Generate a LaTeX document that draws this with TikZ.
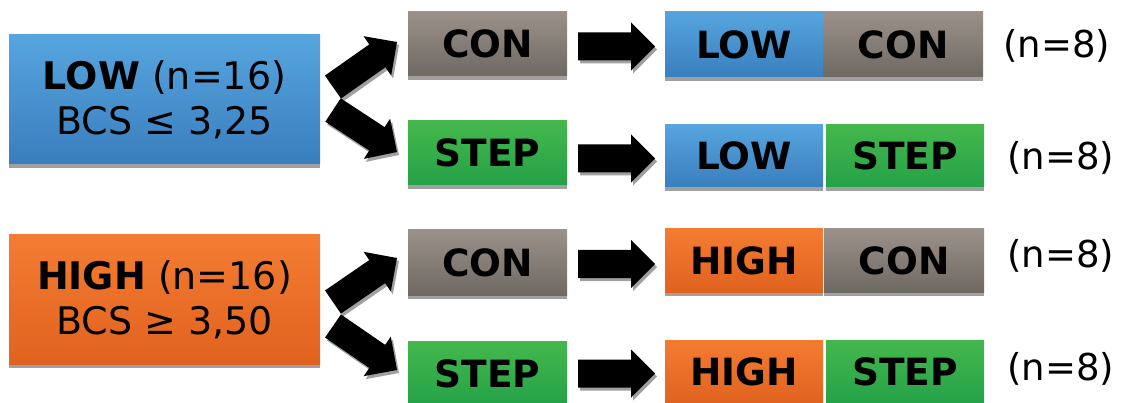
\documentclass[tikz,border=0pt]{standalone}
\usepackage{fontspec}
\setmainfont{DejaVu Sans}
\usetikzlibrary{calc,shadows}
\definecolor{bluetop}{RGB}{86,165,223}
\definecolor{bluebot}{RGB}{58,126,189}
\definecolor{graytop}{RGB}{154,145,138}
\definecolor{graybot}{RGB}{111,105,99}
\definecolor{greentop}{RGB}{69,184,76}
\definecolor{greenbot}{RGB}{36,161,72}
\definecolor{orangetop}{RGB}{244,124,50}
\definecolor{orangebot}{RGB}{224,98,31}
\definecolor{shadowgray}{RGB}{160,160,160}
\tikzset{
  box/.style={inner sep=0pt, outer sep=0pt, align=center, text=black,
    font=\fontsize{38pt}{45pt}\selectfont,
    general shadow={shadow yshift=-4pt, fill=shadowgray}},
  lbl/.style={box, font=\fontsize{37.5pt}{45pt}\selectfont\bfseries},
  bluebox/.style={top color=bluetop, bottom color=bluebot},
  graybox/.style={top color=graytop, bottom color=graybot},
  greenbox/.style={top color=greentop, bottom color=greenbot},
  orangebox/.style={top color=orangetop, bottom color=orangebot},
  nlbl/.style={anchor=base west, inner sep=0pt, font=\fontsize{37pt}{45pt}\selectfont},
  arrowbody/.style={fill=black},
  arrowshadow/.style={fill=shadowgray},
}
\newcommand{\blockarrow}[2]{%
  \path let \p1=(#1), \p2=(#2), \n1={atan2(\y2-\y1,\x2-\x1)}, \n2={veclen(\x2-\x1,\y2-\y1)} in
    \pgfextra{\xdef\baang{\n1}\xdef\balen{\n2}\xdef\bax{\x1}\xdef\bay{\y1}};
  \fill[arrowshadow, shift={(\bax+2pt,\bay-3pt)}, rotate=\baang]
    (0pt,-14pt) -- ({\balen-24pt},-14pt) -- ({\balen-24pt},-24pt) -- ({\balen},0pt)
    -- ({\balen-24pt},24pt) -- ({\balen-24pt},14pt) -- (0pt,14pt) -- cycle;
  \fill[arrowbody, shift={(\bax,\bay)}, rotate=\baang]
    (0pt,-14pt) -- ({\balen-24pt},-14pt) -- ({\balen-24pt},-24pt) -- ({\balen},0pt)
    -- ({\balen-24pt},24pt) -- ({\balen-24pt},14pt) -- (0pt,14pt) -- cycle;
}
\begin{document}
\begin{tikzpicture}[x=1pt,y=-1pt]
\useasboundingbox (0,0) rectangle (1121,403);
\fill[white] (0,0) rectangle (1121,403);

% left group boxes
\node[box, bluebox, minimum width=311pt, minimum height=129pt] (low) at (164.5,99.5)
  {{\bfseries LOW} (n=16)\\BCS ≤ 3,25};
\node[box, orangebox, minimum width=311pt, minimum height=129pt] (high) at (164.5,299.5)
  {{\bfseries HIGH} (n=16)\\BCS ≥ 3,50};

% middle boxes
\node[lbl, graybox, minimum width=159pt, minimum height=64pt] (con1) at (487.5,44) {CON};
\node[lbl, greenbox, minimum width=159pt, minimum height=64pt] (step1) at (487.5,153) {STEP};
\node[lbl, graybox, minimum width=159pt, minimum height=65pt] (con2) at (487.5,262.5) {CON};
\node[lbl, greenbox, minimum width=159pt, minimum height=65pt] (step2) at (487.5,373.5) {STEP};

% right boxes
\node[lbl, bluebox, minimum width=158pt, minimum height=65pt] (r1a) at (744,44.5) {LOW};
\node[lbl, graybox, minimum width=160pt, minimum height=65pt] (r1b) at (903,44.5) {CON};
\node[lbl, bluebox, minimum width=158pt, minimum height=62pt] (r2a) at (744,156) {LOW};
\node[lbl, greenbox, minimum width=158pt, minimum height=62pt] (r2b) at (905,156) {STEP};
\node[lbl, orangebox, minimum width=158pt, minimum height=63pt] (r3a) at (744,260.5) {HIGH};
\node[lbl, graybox, minimum width=160pt, minimum height=63pt] (r3b) at (904,260.5) {CON};
\node[lbl, orangebox, minimum width=158pt, minimum height=64pt] (r4a) at (744,372) {HIGH};
\node[lbl, greenbox, minimum width=158pt, minimum height=64pt] (r4b) at (905,372) {STEP};

% counts
\node[nlbl] (n1) at (1003,58) {(n=8)};
\node[nlbl] (n2) at (1007,170) {(n=8)};
\node[nlbl] (n3) at (1007,268) {(n=8)};
\node[nlbl] (n4) at (1007,380) {(n=8)};

% arrow anchor coordinates
\coordinate (a1s) at (333,87);  \coordinate (a1e) at (397,42);
\coordinate (a2s) at (333,110); \coordinate (a2e) at (397,152);
\coordinate (a3s) at (333,302); \coordinate (a3e) at (397,258);
\coordinate (a4s) at (333,326); \coordinate (a4e) at (397,370);
\coordinate (h1s) at (578,46.5);  \coordinate (h1e) at (655,46.5);
\coordinate (h2s) at (578,158.5); \coordinate (h2e) at (655,158.5);
\coordinate (h3s) at (578,264);   \coordinate (h3e) at (655,264);
\coordinate (h4s) at (578,373.5); \coordinate (h4e) at (655,373.5);

\blockarrow{a1s}{a1e}
\blockarrow{a2s}{a2e}
\blockarrow{a3s}{a3e}
\blockarrow{a4s}{a4e}
\blockarrow{h1s}{h1e}
\blockarrow{h2s}{h2e}
\blockarrow{h3s}{h3e}
\blockarrow{h4s}{h4e}
\end{tikzpicture}
\end{document}
